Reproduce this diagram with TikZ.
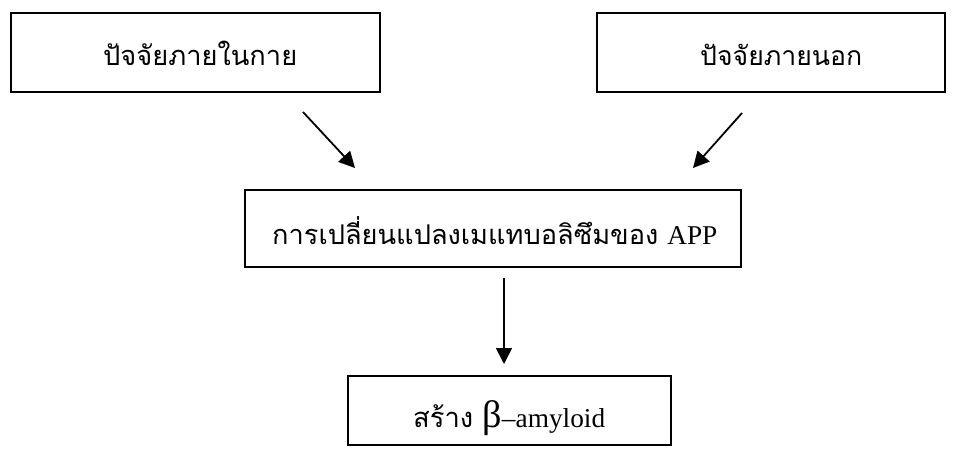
\documentclass[tikz,border=0pt]{standalone}
\usepackage{fontspec}
\setmainfont{Liberation Serif}
\newfontfamily\thaifont[Script=Thai]{Loma}
\usetikzlibrary{arrows.meta}
\begin{document}
\begin{tikzpicture}[x=1pt,y=-1pt,
  box/.style={draw,line width=2.6pt,rectangle,inner sep=0pt},
  lbl/.style={anchor=base west,inner sep=0pt},
  arr/.style={line width=1.8pt,-{Triangle[length=16pt,width=16pt]}}]
\useasboundingbox (0,0) rectangle (955,448);
% boxes
\node[box,minimum width=369pt,minimum height=79pt] (tl) at (195.5,52.5) {};
\node[box,minimum width=348pt,minimum height=79pt] (tr) at (771,52.5) {};
\node[box,minimum width=496pt,minimum height=77pt] (mid) at (493,228.5) {};
\node[box,minimum width=323pt,minimum height=69pt] (bot) at (509.5,410.5) {};
% labels
\node[lbl] (tlt) at (103,65) {\resizebox{194pt}{!}{\thaifont ปัจจัยภายในกาย}};
\node[lbl] (trt) at (700,65) {\resizebox{162pt}{!}{\thaifont ปัจจัยภายนอก}};
\node[lbl] (midt) at (272,244) {\resizebox{445pt}{!}{\thaifont การเปลี่ยนแปลงเมแทบอลิซึมของ\/ {\rmfamily APP}}};
\node[lbl] (bott) at (413,427) {\resizebox{192pt}{!}{\thaifont สร้าง {\rmfamily\fontsize{14}{14}\selectfont β}{\rmfamily –amyloid}}};
% connectors
\coordinate (a1s) at (303,112);
\coordinate (a1e) at (355,168);
\coordinate (a2s) at (742,113);
\coordinate (a2e) at (693,168);
\coordinate (a3s) at (504,278);
\coordinate (a3e) at (504,364);
\draw[arr] (a1s) -- (a1e);
\draw[arr] (a2s) -- (a2e);
\draw[arr] (a3s) -- (a3e);
\end{tikzpicture}
\end{document}
